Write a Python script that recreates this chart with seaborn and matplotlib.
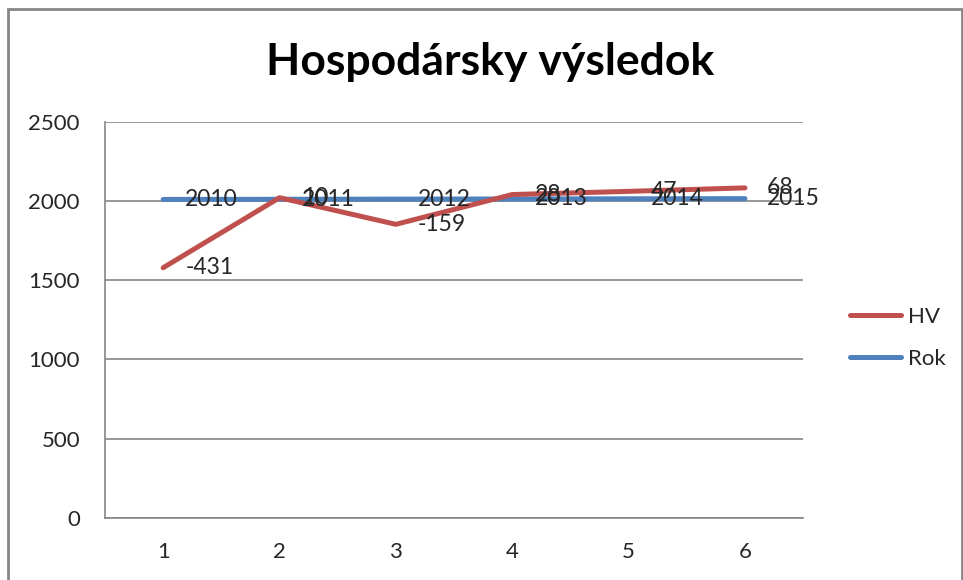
import matplotlib
matplotlib.use("Agg")
import matplotlib.pyplot as plt
import seaborn as sns
import numpy as np
import pandas as pd
from matplotlib.patches import Rectangle

# data (HV is stacked on top of Rok in the original)
kategorie = [1, 2, 3, 4, 5, 6]
rok = [2010, 2011, 2012, 2013, 2014, 2015]
hv = [-431, 10, -159, 28, 47, 68]
y_ticks = [0, 500, 1000, 1500, 2000, 2500]

hv_stacked = np.array(rok) + np.array(hv)

df = pd.DataFrame({
    "x": kategorie * 2,
    "y": list(hv_stacked) + rok,
    "serie": ["HV"] * 6 + ["Rok"] * 6,
})

sns.set_style("white")
plt.rcParams["font.family"] = ["Lato", "DejaVu Sans"]

fig = plt.figure(figsize=(9.63, 5.80), dpi=100)
ax = fig.add_axes([0.109, 0.107, 0.725, 0.683])

farby = {"HV": "#c0504d", "Rok": "#4f81bd"}
sns.lineplot(data=df, x="x", y="y", hue="serie", palette=farby,
             hue_order=["HV", "Rok"], linewidth=3.6, ax=ax, legend=False)
# Rok drawn under HV like in Excel
for ln, z in zip(ax.lines, [3, 2]):
    ln.set_zorder(z)
    ln.set_solid_capstyle("round")

# data labels
for x, y, t in zip(kategorie, rok, rok):
    ax.annotate(str(t), (x, y), xytext=(16, 0), textcoords="offset points",
                va="center", ha="left", fontsize=16.5, zorder=5)
for x, y, t in zip(kategorie, hv_stacked, hv):
    ax.annotate(str(t), (x, y), xytext=(16, 0), textcoords="offset points",
                va="center", ha="left", fontsize=16.5, zorder=5)

ax.set_xlim(0.5, 6.5)
ax.set_ylim(0, 2500)
ax.set_xticks(kategorie)
ax.set_yticks(y_ticks)
ax.tick_params(axis="y", length=0, pad=18, labelsize=16)
ax.tick_params(axis="x", length=0, pad=17, labelsize=16)
ax.grid(axis="y", color="#868686", linewidth=1.2)
ax.set_axisbelow(True)
for s in ["top", "right"]:
    ax.spines[s].set_visible(False)
for s in ["left", "bottom"]:
    ax.spines[s].set_color("#868686")
    ax.spines[s].set_linewidth(1.2)
ax.set_xlabel("")
ax.set_ylabel("")

fig.text(0.509, 0.893, "Hospodársky výsledok", ha="center", va="center",
         fontsize=32, fontweight="bold", color="black")

handles = [plt.Line2D([], [], color=farby[k], linewidth=3.6,
                      solid_capstyle="round") for k in ["HV", "Rok"]]
fig.legend(handles, ["HV", "Rok"], loc="center left",
           bbox_to_anchor=(0.862, 0.417), frameon=False, fontsize=16,
           handlelength=2.3, handletextpad=0.3, labelspacing=1.0)

fig.patches.append(Rectangle((8 / 963, -0.05), 954 / 963, 1.05 - 9 / 580,
                             transform=fig.transFigure, fill=False,
                             edgecolor="#868686", linewidth=2))

fig.savefig("out.png", dpi=100)
